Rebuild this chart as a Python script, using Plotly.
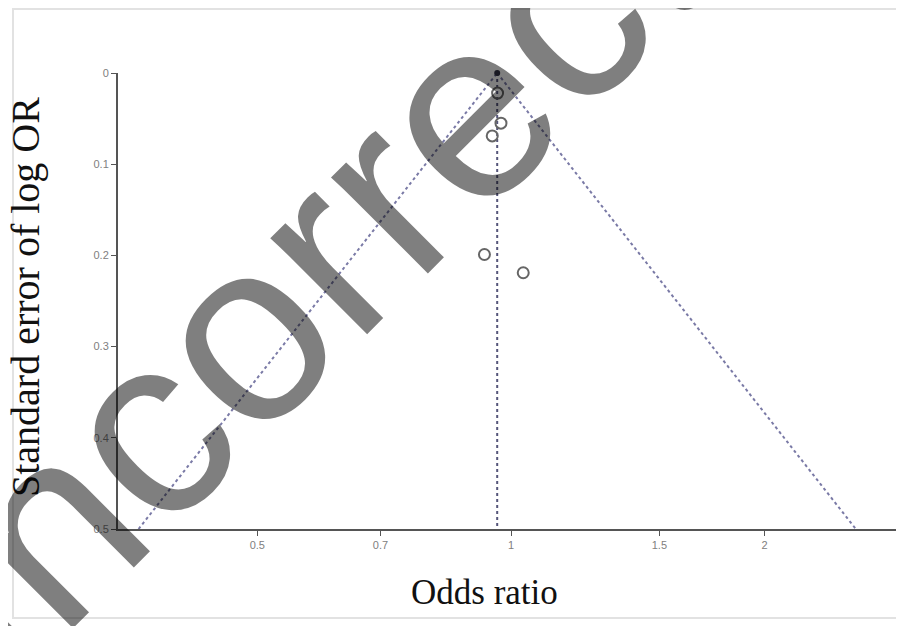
import numpy as np
import plotly.graph_objects as go

# Data
odds_ratio = [0.964, 0.973, 0.950, 0.930, 1.034]
std_err = [0.022, 0.055, 0.069, 0.199, 0.219]
pooled_or = 0.963
se_max = 0.5
x_ticks = [0.5, 0.7, 1, 1.5, 2]
x_tick_labels = ["0.5", "0.7", "1", "1.5", "2"]
y_ticks = [0, 0.1, 0.2, 0.3, 0.4, 0.5]
y_tick_labels = ["0", "0.1", "0.2", "0.3", "0.4", "0.5"]

OFF = 8  # page body margin
W, H = 904 - OFF, 626 - OFF
PL, PR, PT, PB = 118, 904, 73, 529
L, T = PL - OFF, PT - OFF
R = W - (PR - OFF)
B = H - (PB - OFF)
pw, ph = W - L - R, H - T - B

def px(xw):
    return (xw - PL) / pw

def py(yw):
    return (PB - yw) / ph

lp = np.log(pooled_or)
left_x = [float(np.exp(lp - 1.96 * se_max)), pooled_or]
right_x = [pooled_or, float(np.exp(lp + 1.96 * se_max))]
funnel_y = [se_max, 0]

fig = go.Figure()
fig.add_trace(go.Scatter(x=left_x, y=funnel_y, mode="lines",
                         line=dict(color="#7a7aa6", width=2, dash="dot"),
                         hoverinfo="skip", showlegend=False))
fig.add_trace(go.Scatter(x=right_x, y=[0, se_max], mode="lines",
                         line=dict(color="#7a7aa6", width=2, dash="dot"),
                         hoverinfo="skip", showlegend=False))
fig.add_trace(go.Scatter(x=[pooled_or, pooled_or], y=[0, se_max], mode="lines",
                         line=dict(color="#55557a", width=2, dash="dot"),
                         hoverinfo="skip", showlegend=False))
fig.add_trace(go.Scatter(x=odds_ratio, y=std_err, mode="markers",
                         marker=dict(symbol="circle-open", size=11,
                                     color="#666666", line=dict(width=2)),
                         showlegend=False, cliponaxis=False))
fig.add_trace(go.Scatter(x=[pooled_or], y=[0], mode="markers",
                         marker=dict(symbol="circle", size=6, color="#333344"),
                         showlegend=False, cliponaxis=False))

fig.update_xaxes(type="log", range=[-0.4664, 0.4664],
                 tickvals=x_ticks, ticktext=x_tick_labels,
                 showline=True, linecolor="#555555", linewidth=2,
                 ticks="outside", ticklen=5, tickcolor="#555555",
                 showgrid=False, zeroline=False,
                 tickfont=dict(family="Liberation Sans", size=11, color="#808080"))
fig.update_yaxes(range=[0.5, 0], tickvals=y_ticks, ticktext=y_tick_labels,
                 showline=True, linecolor="#555555", linewidth=2,
                 ticks="outside", ticklen=5, tickcolor="#555555",
                 showgrid=False, zeroline=False,
                 tickfont=dict(family="Liberation Sans", size=11, color="#808080"))

fig.add_annotation(text="Standard error of log OR", xref="paper", yref="paper",
                   x=px(25), y=py(297), xanchor="center", yanchor="middle",
                   showarrow=False, textangle=-90,
                   font=dict(family="Liberation Serif", size=40, color="#111111"))
fig.add_annotation(text="Odds ratio", xref="paper", yref="paper",
                   x=px(484), y=py(592), xanchor="center", yanchor="middle",
                   showarrow=False,
                   font=dict(family="Liberation Serif", size=35, color="#111111"))

fig.add_shape(type="rect", xref="paper", yref="paper",
              x0=px(13), x1=px(920), y0=py(618), y1=py(9),
              line=dict(color="#e2e2e2", width=2), layer="below")

# watermark
fig.add_annotation(text="Incorrect", xref="paper", yref="paper",
                   x=px(301), y=py(273), xanchor="center", yanchor="middle",
                   showarrow=False, textangle=-45,
                   font=dict(family="Liberation Sans", size=258,
                             color="rgba(0,0,0,0.5)"))

fig.update_layout(width=W, height=H, margin=dict(l=L, r=R, t=T, b=B),
                  paper_bgcolor="white", plot_bgcolor="white")
fig.write_html("out.html")
